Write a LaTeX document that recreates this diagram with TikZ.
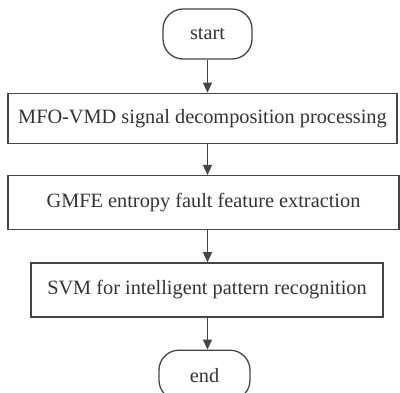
\documentclass[tikz,border=0pt]{standalone}
\usepackage{fontspec}
\setmainfont{Liberation Serif}
\usetikzlibrary{arrows.meta,positioning}

\definecolor{linegray}{HTML}{454545}
\definecolor{textgray}{HTML}{333333}

\begin{document}
\begin{tikzpicture}[
  font=\fontsize{20.4}{24}\selectfont,
  node distance=32bp,
  terminal/.style={draw=linegray, line width=1.3pt, rectangle, rounded corners=20bp, minimum height=50bp, minimum width=89bp, text=textgray, align=center},
  process/.style={draw=linegray, line width=1.3pt, rectangle, minimum height=54bp, text=textgray, align=center},
  edge/.style={-{Triangle[length=10bp,width=9bp]}, line width=1.3pt, draw=linegray}
]
  \useasboundingbox (0,0) rectangle (400bp,-393bp);

  \node[terminal] (start) at (207.5bp,-34bp) {start};
  \node[process, minimum height=50bp, minimum width=389bp, below=33bp of start, xshift=-5bp] (decomp) {MFO-VMD signal decomposition processing};
  \node[process, minimum width=391bp, below=31bp of decomp, xshift=1bp] (feature) {GMFE entropy fault feature extraction};
  \node[process, minimum width=352bp, below=of feature, xshift=3.5bp] (classify) {SVM for intelligent pattern recognition};
  \node[terminal, minimum width=91bp, below=of classify, xshift=-2.5bp] (finish) {end};

  \draw[edge] (start) -- (start |- decomp.north);
  \draw[edge] (start |- decomp.south) -- (start |- feature.north);
  \draw[edge] (start |- feature.south) -- (start |- classify.north);
  \draw[edge] (start |- classify.south) -- (start |- finish.north);
\end{tikzpicture}
\end{document}
